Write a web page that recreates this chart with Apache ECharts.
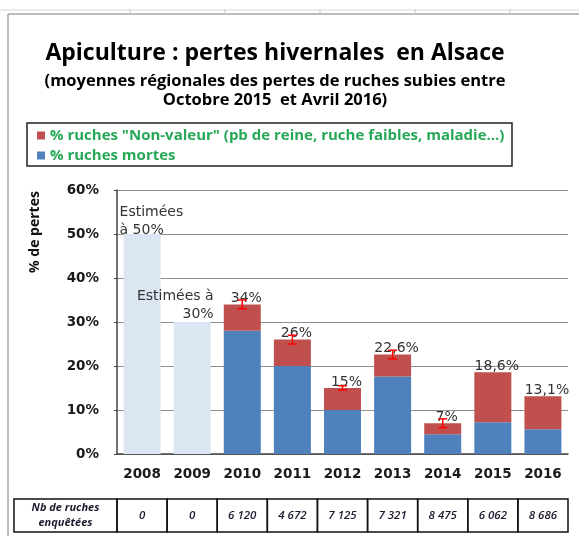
<!DOCTYPE html>
<html lang="fr">
<head>
    <meta charset="UTF-8">
    <title>Apiculture : pertes hivernales</title>
    <style>
        html,body{margin:0;padding:0;background:#fff;}
        #chart{width:579px;height:536px;}
    </style>
</head>
<body>
<div id="chart"></div>
<script src="https://cdn.jsdelivr.net/npm/echarts@6/dist/echarts.min.js"></script>
<script>
    // donnees
    let years = ['2008','2009','2010','2011','2012','2013','2014','2015','2016'];
    let estimees = [50, 30, '-', '-', '-', '-', '-', '-', '-'];
    let mortes = ['-', '-', 28, 20, 10, 17.6, 4.5, 7.2, 5.6];
    let totaux = ['-', '-', 34, 26, 15, 22.6, 7, 18.6, 13.1];
    let erreurs = ['-', '-', 1, 1, 0.5, 1, 1, '-', '-'];
    let nbRuches = ['0', '0', '6 120', '4 672', '7 125', '7 321', '8 475', '6 062', '8 686'];
    let yTicks = [0, 10, 20, 30, 40, 50, 60];

    let nonValeur = totaux.map(function (t, i) {
        return t === '-' ? '-' : +(t - mortes[i]).toFixed(1);
    });

    let fontT = '"Open Sans", "Noto Sans", sans-serif';
    let fontL = '"DejaVu Sans", sans-serif';
    let gridLeft = 117, gridRight = 11;
    let cellW = (579 - gridLeft - gridRight) / years.length;

    // tableau sous le graphique
    let table = [];
    let tTop = 499, tH = 33;
    table.push({type:'rect', shape:{x:14, y:tTop, width:gridLeft-14, height:tH},
        style:{fill:'#fff', stroke:'#111', lineWidth:1.5}});
    table.push({type:'text', x:(14+gridLeft)/2, y:tTop+tH/2,
        style:{text:'Nb de ruches\nenquêtées', align:'center', verticalAlign:'middle', lineHeight:15,
            font:'italic bold 11px ' + fontT, fill:'#1a1a2e'}});
    nbRuches.forEach(function (v, i) {
        let x = gridLeft + i * cellW;
        table.push({type:'rect', shape:{x:x, y:tTop, width:cellW, height:tH},
            style:{fill:'none', stroke:'#111', lineWidth:1.5}});
        table.push({type:'text', x:x + cellW/2, y:tTop+tH/2,
            style:{text:v, align:'center', verticalAlign:'middle',
                font:'italic 600 11.5px ' + fontT, fill:'#1a1a2e'}});
    });

    let chart = echarts.init(document.getElementById('chart'));
    let option = {
        animation:false,
        backgroundColor:'#fff',
        title:{
            text:'Apiculture : pertes hivernales  en Alsace',
            subtext:'(moyennes régionales des pertes de ruches subies entre\nOctobre 2015  et Avril 2016)',
            left:270, top:37, textAlign:'center', itemGap:7,
            textStyle:{fontFamily:fontT, fontSize:23, fontWeight:'bold', color:'#000'},
            subtextStyle:{fontFamily:fontT, fontSize:16.5, fontWeight:'bold', color:'#000', lineHeight:19}
        },
        legend:{
            data:['% ruches "Non-valeur" (pb de reine, ruche faibles, maladie...)', '% ruches mortes'],
            orient:'vertical', left:32, top:122, itemGap:3,
            icon:'rect', itemWidth:8, itemHeight:8,
            textStyle:{fontFamily:fontT, fontSize:15, fontWeight:'bold', color:'#27a857', lineHeight:17}
        },
        grid:{left:gridLeft, right:gridRight, top:190, bottom:82},
        xAxis:{
            type:'category',
            data:years,
            axisTick:{show:false},
            axisLine:{lineStyle:{color:'#444', width:1.5}},
            axisLabel:{margin:13, fontFamily:fontL, fontSize:13.5, fontWeight:'bold', color:'#1a1a1a'}
        },
        yAxis:{
            type:'value',
            min:yTicks[0], max:yTicks[yTicks.length-1], interval:10,
            axisLine:{show:true, lineStyle:{color:'#444', width:1.5}},
            axisTick:{show:true, length:3, lineStyle:{color:'#444'}},
            splitLine:{lineStyle:{color:'#8f8f8f', width:1}},
            axisLabel:{margin:18, formatter:'{value}%', fontFamily:fontL, fontSize:13.5, fontWeight:'bold', color:'#1a1a1a'}
        },
        series:[
            {
                name:'estimees', type:'bar', stack:'a', barWidth:37,
                itemStyle:{color:'#dce6f2'},
                data:estimees.map(function (v, i) {
                    if (v === '-') return v;
                    let lab = i === 0
                        ? {show:true, formatter:'Estimées\nà ' + v + '%', position:[-4,-31], align:'left', verticalAlign:'top'}
                        : {show:true, formatter:'Estimées à\n' + v + '%', position:[40,-35], align:'right', verticalAlign:'top'};
                    lab.fontFamily = fontL; lab.fontSize = 14; lab.color = '#333'; lab.lineHeight = 18;
                    return {value:v, label:lab};
                })
            },
            {
                name:'% ruches mortes', type:'bar', stack:'a', barWidth:37,
                itemStyle:{color:'#4f81bd'},
                data:mortes
            },
            {
                name:'% ruches "Non-valeur" (pb de reine, ruche faibles, maladie...)', type:'bar', stack:'a', barWidth:37,
                itemStyle:{color:'#c0504d'},
                label:{
                    show:true, position:'top', distance:-1, offset:[4,0],
                    fontFamily:fontL, fontSize:14, color:'#333',
                    formatter:function (p) { return String(totaux[p.dataIndex]).replace('.', ',') + '%'; }
                },
                data:nonValeur
            },
            {
                name:'erreur', type:'custom', z:10,
                renderItem:function (params, api) {
                    let x = api.value(0);
                    let lo = api.coord([x, api.value(1)]);
                    let hi = api.coord([x, api.value(2)]);
                    let w = 4.5;
                    let st = {stroke:'#ff0000', lineWidth:1.5};
                    return {type:'group', children:[
                        {type:'line', shape:{x1:lo[0], y1:lo[1], x2:hi[0], y2:hi[1]}, style:st},
                        {type:'line', shape:{x1:lo[0]-w, y1:lo[1], x2:lo[0]+w, y2:lo[1]}, style:st},
                        {type:'line', shape:{x1:hi[0]-w, y1:hi[1], x2:hi[0]+w, y2:hi[1]}, style:st}
                    ]};
                },
                data:totaux.map(function (t, i) {
                    return erreurs[i] === '-' ? null : [i, t - erreurs[i], t + erreurs[i]];
                }).filter(function (d) { return d; })
            }
        ],
        graphic:[
            {type:'line', shape:{x1:0, y1:10, x2:579, y2:10}, style:{stroke:'#d8d8d8', lineWidth:1}},
            {type:'line', shape:{x1:8, y1:14, x2:579, y2:14}, style:{stroke:'#a6a6a6', lineWidth:1.5}},
            {type:'line', shape:{x1:8, y1:14, x2:8, y2:536}, style:{stroke:'#a6a6a6', lineWidth:1.5}},
            {type:'line', shape:{x1:130, y1:9, x2:130, y2:14}, style:{stroke:'#c8c8c8'}},
            {type:'line', shape:{x1:225, y1:9, x2:225, y2:14}, style:{stroke:'#c8c8c8'}},
            {type:'line', shape:{x1:320, y1:9, x2:320, y2:14}, style:{stroke:'#c8c8c8'}},
            {type:'line', shape:{x1:415, y1:9, x2:415, y2:14}, style:{stroke:'#c8c8c8'}},
            {type:'line', shape:{x1:510, y1:9, x2:510, y2:14}, style:{stroke:'#c8c8c8'}},
            {type:'rect', shape:{x:27, y:123, width:485, height:43}, style:{fill:'none', stroke:'#222', lineWidth:1.5}},
            {type:'text', x:35, y:232, rotation:Math.PI/2,
                style:{text:'% de pertes', align:'center', verticalAlign:'middle',
                    font:'bold 14px ' + fontT, fill:'#111'}}
        ].concat(table)
    };
    chart.setOption(option);
</script>
</body>
</html>
